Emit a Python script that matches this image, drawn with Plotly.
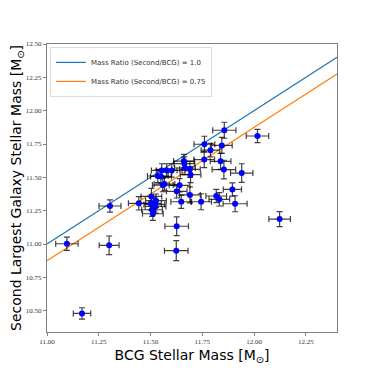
import numpy as np
import plotly.graph_objects as go

# BCG and second-largest galaxy stellar masses (log10 Msun) with 1-sigma errors
bcg_mass = [11.096, 11.300, 11.624, 11.169, 12.016, 12.123, 11.856, 11.940, 11.908, 11.895,
            11.854, 11.838, 11.844, 11.760, 11.789, 11.759, 11.690, 11.693, 11.690, 11.744,
            11.817, 11.832, 11.304, 11.443, 11.504, 11.526, 11.518, 11.507, 11.511, 11.626,
            11.648, 11.626, 11.640, 11.559, 11.567, 11.550, 11.554, 11.578, 11.602, 11.661,
            11.663, 11.666, 11.535, 11.502, 11.524]
second_mass = [11.002, 10.990, 10.950, 10.479, 11.810, 11.187, 11.853, 11.532, 11.302, 11.409,
               11.558, 11.620, 11.739, 11.748, 11.704, 11.633, 11.560, 11.520, 11.368, 11.317,
               11.360, 11.335, 11.285, 11.305, 11.357, 11.325, 11.297, 11.257, 11.227, 11.133,
               11.317, 11.395, 11.440, 11.442, 11.450, 11.507, 11.552, 11.552, 11.552, 11.622,
               11.603, 11.570, 11.510, 11.304, 11.282]
bcg_err = [0.054, 0.048, 0.057, 0.042, 0.054, 0.052, 0.056, 0.054, 0.058, 0.044,
           0.057, 0.050, 0.050, 0.050, 0.045, 0.050, 0.050, 0.050, 0.050, 0.050,
           0.050, 0.050, 0.053, 0.050, 0.050, 0.050, 0.050, 0.050, 0.050, 0.057,
           0.050, 0.050, 0.050, 0.050, 0.050, 0.050, 0.050, 0.050, 0.050, 0.050,
           0.050, 0.050, 0.050, 0.050, 0.050]
second_err = [0.050, 0.070, 0.075, 0.043, 0.050, 0.056, 0.060, 0.070, 0.060, 0.050,
              0.070, 0.060, 0.060, 0.060, 0.050, 0.060, 0.060, 0.060, 0.060, 0.060,
              0.050, 0.050, 0.046, 0.050, 0.060, 0.050, 0.050, 0.050, 0.050, 0.070,
              0.050, 0.050, 0.050, 0.050, 0.050, 0.050, 0.050, 0.050, 0.050, 0.050,
              0.050, 0.050, 0.050, 0.050, 0.050]

mass_ratios = [1.0, 0.75]
ratio_colors = ["#1f77b4", "#ff7f0e"]
x_range = [11.0, 12.4]
y_range = [10.34, 12.5]
tick_vals_x = [11.0, 11.25, 11.5, 11.75, 12.0, 12.25]
tick_vals_y = [10.5, 10.75, 11.0, 11.25, 11.5, 11.75, 12.0, 12.25, 12.5]

fig = go.Figure()

xs = np.array(x_range)
for ratio, color in zip(mass_ratios, ratio_colors):
    fig.add_trace(go.Scatter(
        x=xs, y=xs + np.log10(ratio), mode="lines",
        line={"color": color, "width": 1.2},
        name=f"Mass Ratio (Second/BCG) = {ratio}",
    ))

fig.add_trace(go.Scatter(
    x=bcg_mass, y=second_mass, mode="markers",
    marker={"color": "#0000ff", "size": 6},
    error_x={"type": "data", "array": bcg_err, "color": "rgba(0,0,0,0.75)",
             "thickness": 1.2, "width": 3},
    error_y={"type": "data", "array": second_err, "color": "rgba(0,0,0,0.75)",
             "thickness": 1.2, "width": 3},
    showlegend=False,
))

axis_common = dict(
    showgrid=False, zeroline=False, showline=True, mirror=True,
    linecolor="#7f7f7f", linewidth=1, ticks="outside", ticklen=3,
    tickcolor="#7f7f7f", tickformat=".2f", automargin=False,
    tickfont={"family": "Liberation Serif", "size": 7, "color": "#333333"},
)

# the page body adds an 8px offset, so margins are shifted to compensate
fig.update_layout(
    width=374, height=374,
    margin={"l": 39, "r": 45, "t": 36, "b": 50},
    plot_bgcolor="white", paper_bgcolor="white",
    font={"family": "DejaVu Sans", "color": "black"},
    legend={"x": 0.01, "y": 0.99, "xanchor": "left", "yanchor": "top",
            "bgcolor": "white", "bordercolor": "#dddddd", "borderwidth": 1,
            "font": {"size": 7, "color": "#333333"}, "itemwidth": 30,
            "tracegroupgap": 0},
)
fig.update_xaxes(range=x_range, tickvals=tick_vals_x,
                 title={"text": "BCG Stellar Mass [M<sub>⊙</sub>]",
                        "font": {"size": 14}, "standoff": 4},
                 **axis_common)
fig.update_yaxes(range=y_range, tickvals=tick_vals_y,
                 title={"text": "Second Largest Galaxy Stellar Mass [M<sub>⊙</sub>]",
                        "font": {"size": 14}, "standoff": 6},
                 **axis_common)

fig.write_html("out.html")
